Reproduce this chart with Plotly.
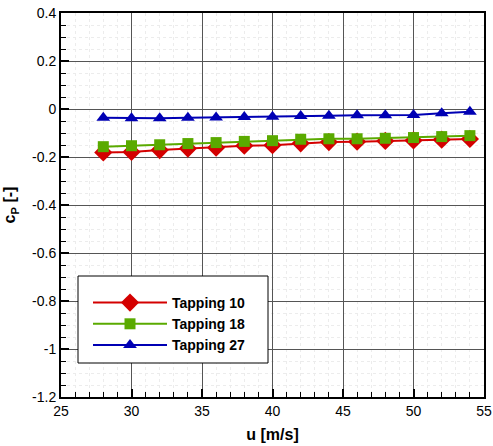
import plotly.graph_objects as go

u = [28, 30, 32, 34, 36, 38, 40, 42, 44, 46, 48, 50, 52, 54]
cp_t10 = [-0.181, -0.179, -0.171, -0.165, -0.161, -0.153, -0.151, -0.143, -0.138, -0.136, -0.133, -0.131, -0.128, -0.125]
cp_t18 = [-0.157, -0.153, -0.149, -0.144, -0.140, -0.135, -0.132, -0.126, -0.124, -0.124, -0.122, -0.119, -0.115, -0.111]
cp_t27 = [-0.036, -0.039, -0.039, -0.036, -0.035, -0.033, -0.032, -0.029, -0.028, -0.026, -0.026, -0.025, -0.018, -0.011]

series = [
    ("Tapping 10", cp_t10, "#d40000", "diamond", 14),
    ("Tapping 18", cp_t18, "#5aaa00", "square", 11),
    ("Tapping 27", cp_t27, "#0000b4", "triangle-up", 12),
]

y_ticks = [0.4, 0.2, 0, -0.2, -0.4, -0.6, -0.8, -1, -1.2]
y_ticktext = ["0.4", "0.2", "0", "-0.2", "-0.4", "-0.6", "-0.8", "-1", "-1.2"]
x_ticks = [25, 30, 35, 40, 45, 50, 55]

W, H = 493, 446
L, R, T, B = 61, 9, 13, 49
pw, ph = W - L - R, H - T - B

def px_x(p):
    return (p - L) / pw

def px_y(p):
    return (H - B - p) / ph

fig = go.Figure()
for name, ys, color, sym, size in series:
    fig.add_trace(go.Scatter(
        x=u, y=ys, name=name, mode="lines+markers",
        line=dict(color=color, width=2),
        marker=dict(symbol=sym, size=size, color=color, line=dict(width=0)),
    ))

font_family = "Liberation Sans, Arial, Helvetica, sans-serif"

# legend frame
fig.add_shape(type="rect", xref="paper", yref="paper",
              x0=px_x(78), x1=px_x(268), y0=px_y(363), y1=px_y(276),
              line=dict(color="black", width=1), fillcolor="white", layer="above")

fig.update_layout(
    width=W, height=H,
    margin=dict(l=L, r=R, t=T, b=B),
    paper_bgcolor="white", plot_bgcolor="white",
    font=dict(family=font_family, size=14, color="black"),
    showlegend=True,
    legend=dict(
        x=px_x(88), y=px_y(287), xanchor="left", yanchor="top",
        bgcolor="rgba(0,0,0,0)", borderwidth=0,
        font=dict(size=14, family=font_family, color="black", weight="bold"),
        itemwidth=74, tracegroupgap=0,
    ),
)

fig.update_xaxes(
    range=[25, 55], tickvals=x_ticks, automargin=False,
    showline=True, linecolor="black", linewidth=2, mirror=True,
    ticks="inside", ticklen=8, tickwidth=2, tickcolor="black",
    showgrid=True, gridcolor="#555555", gridwidth=1,
    zeroline=False,
    minor=dict(ticks="inside", ticklen=5, tickwidth=1, tickcolor="black", dtick=1,
               showgrid=True, gridcolor="#ececec", gridwidth=1, griddash="dot"),
    title=dict(text="<b>u [m/s]</b>", font=dict(size=16), standoff=11),
    tickfont=dict(size=14),
)
fig.update_yaxes(
    range=[-1.2, 0.4], tickvals=y_ticks, ticktext=y_ticktext, automargin=False,
    showline=True, linecolor="black", linewidth=2, mirror=True,
    ticks="inside", ticklen=8, tickwidth=2, tickcolor="black",
    showgrid=True, gridcolor="#555555", gridwidth=1,
    zeroline=False,
    minor=dict(ticks="inside", ticklen=5, tickwidth=1, tickcolor="black", dtick=0.05,
               showgrid=True, gridcolor="#ececec", gridwidth=1, griddash="dot"),
    title=dict(text="<b>c<sub>P</sub> [-]</b>", font=dict(size=16), standoff=12),
    tickfont=dict(size=14),
)

fig.write_html("out.html", config={"displayModeBar": False},
               post_script="document.body.style.margin='0';")
